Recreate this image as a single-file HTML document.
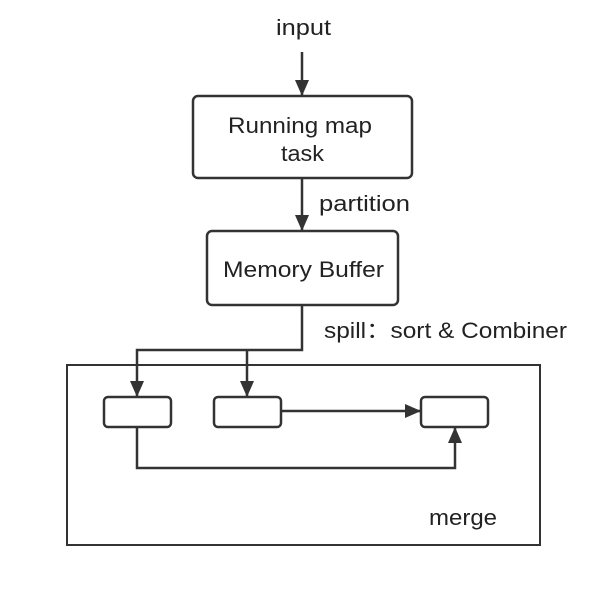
<!DOCTYPE html>
<html><head><style>body{margin:0;background:#fff}</style></head><body>
<svg width="611" height="594" xmlns="http://www.w3.org/2000/svg" font-family="Liberation Sans, sans-serif" fill="none" stroke="#333" stroke-width="2.5">
<defs><marker id="b" markerWidth="16" markerHeight="14" refX="15" refY="7" orient="auto" markerUnits="userSpaceOnUse"><path d="M0,0 L16,7 L0,14 z" fill="#333" stroke="none"/></marker></defs>
<rect x="193" y="96" width="219" height="82" rx="5"/>
<rect x="207" y="231" width="191" height="74" rx="5"/>
<rect x="67" y="365" width="473" height="180" stroke-width="2"/>
<rect x="104" y="397" width="67" height="30" rx="4"/>
<rect x="214" y="397" width="67" height="30" rx="4"/>
<rect x="421" y="397" width="67" height="30" rx="4"/>
<line x1="302" y1="52" x2="302" y2="95" marker-end="url(#b)"/>
<line x1="302" y1="178" x2="302" y2="230" marker-end="url(#b)"/>
<path d="M302,305 V350 H137 V396" marker-end="url(#b)"/>
<path d="M247,350 V396" marker-end="url(#b)"/>
<line x1="281" y1="411" x2="420" y2="411" marker-end="url(#b)"/>
<path d="M137,427 V468 H455 V428" marker-end="url(#b)"/>
<g fill="#222" stroke="none" font-size="22">
<text x="276" y="35" textLength="55" lengthAdjust="spacingAndGlyphs">input</text>
<text x="228" y="133" textLength="144" lengthAdjust="spacingAndGlyphs">Running map</text>
<text x="281" y="161" textLength="43" lengthAdjust="spacingAndGlyphs">task</text>
<text x="319" y="211" textLength="91" lengthAdjust="spacingAndGlyphs">partition</text>
<text x="223" y="277" textLength="161" lengthAdjust="spacingAndGlyphs">Memory Buffer</text>
<text x="324" y="338" textLength="243" lengthAdjust="spacingAndGlyphs">spill：sort &amp; Combiner</text>
<text x="429" y="525" textLength="68" lengthAdjust="spacingAndGlyphs">merge</text>
</g>
</svg>
</body></html>
